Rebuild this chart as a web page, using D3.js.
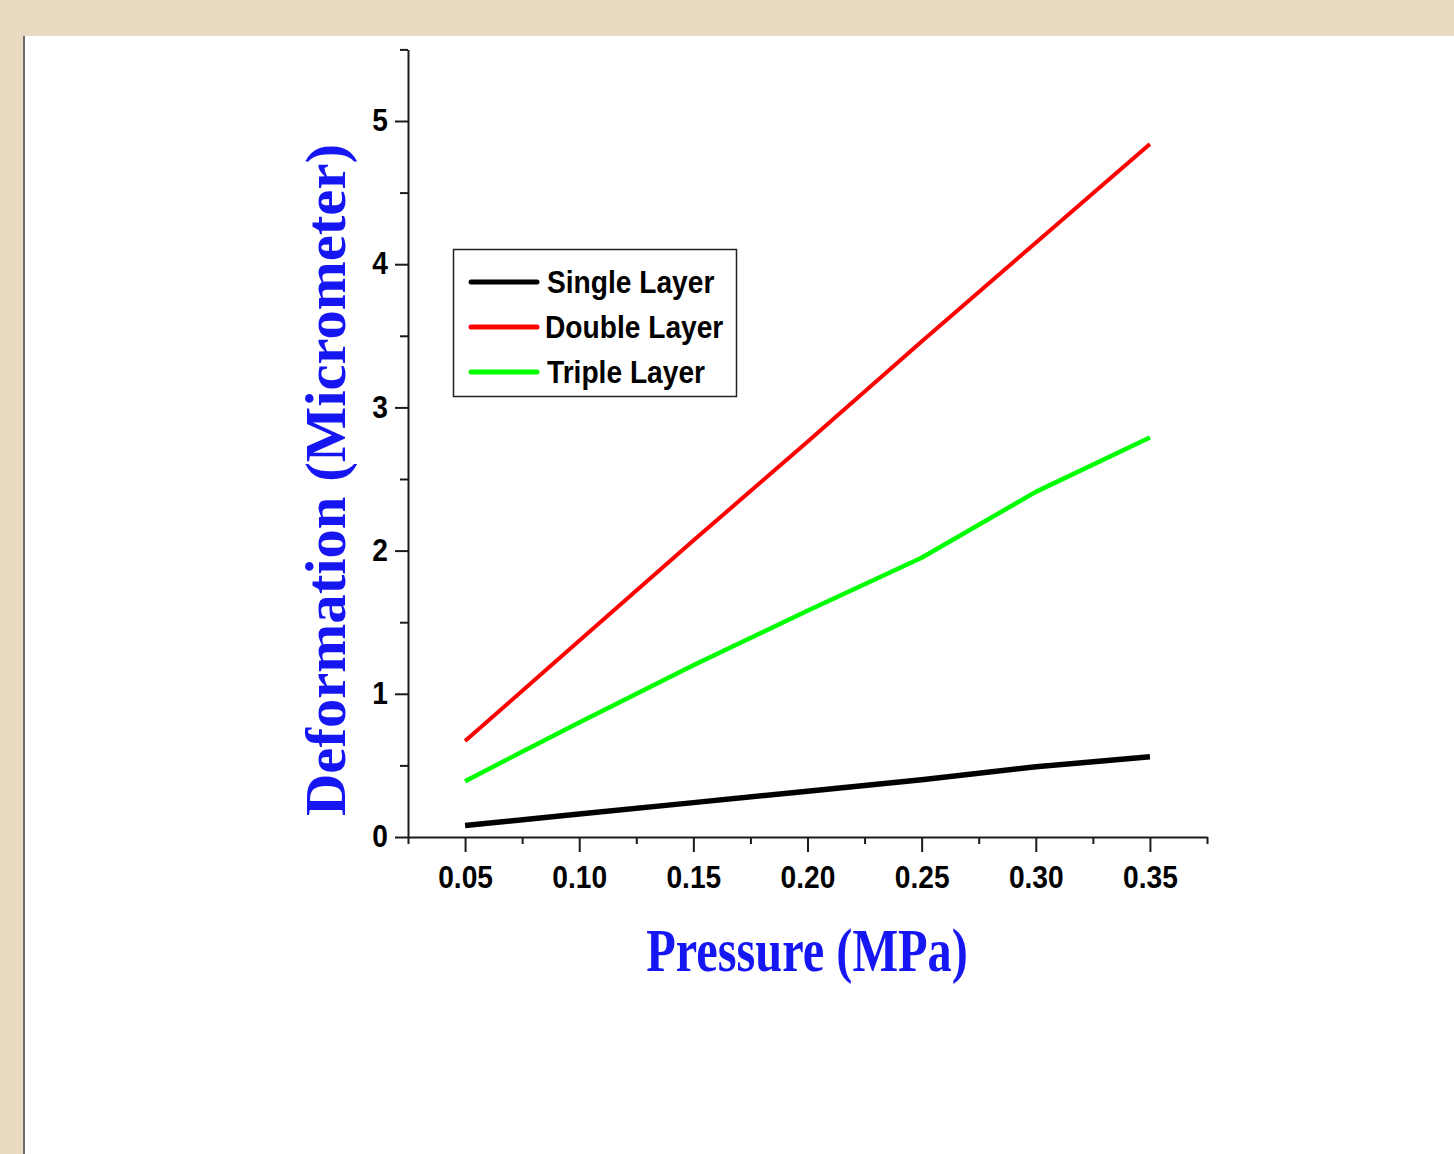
<!DOCTYPE html>
<html>
<head>
<meta charset="utf-8">
<script src="https://cdn.jsdelivr.net/npm/d3@7"></script>
<style>
  body { margin: 0; background: #E9DBC1; }
  svg { display: block; }
</style>
</head>
<body>
<svg id="chart"></svg>
<script>
// data
const pressure = [0.05, 0.10, 0.15, 0.20, 0.25, 0.30, 0.35];
const singleLayer = [0.08, 0.16, 0.24, 0.32, 0.40, 0.49, 0.56];
const doubleLayer = [0.67, 1.37, 2.07, 2.76, 3.46, 4.15, 4.84];
const tripleLayer = [0.39, 0.80, 1.20, 1.58, 1.95, 2.41, 2.79];
const seriesNames = ["Single Layer", "Double Layer", "Triple Layer"];
const xTicks = [0.05, 0.10, 0.15, 0.20, 0.25, 0.30, 0.35];
const yTicks = [0, 1, 2, 3, 4, 5];

const width = 1454, height = 1154;
const colors = ["#000000", "#FF0000", "#00FF00"];
const strokeW = [5.5, 4, 4.5];
const sansFont = "'Liberation Sans', Arial, sans-serif";
const serifFont = "'Liberation Serif', 'Times New Roman', serif";
const titleBlue = "#1616F2";

const svg = d3.select("#chart")
  .attr("width", width)
  .attr("height", height);

// beige page + white panel with a grey left edge
svg.append("rect").attr("width", width).attr("height", height).attr("fill", "#E9DBC1");
svg.append("rect").attr("x", 23).attr("y", 36).attr("width", width - 23).attr("height", height - 36).attr("fill", "#fff");
svg.append("rect").attr("x", 23).attr("y", 36).attr("width", 2).attr("height", height - 36).attr("fill", "#6b6b6b");

// scales
const xScale = d3.scaleLinear().domain([0.025, 0.375]).range([408, 1207]);
const yScale = d3.scaleLinear().domain([0, 5.5]).range([837, 837 - 143.2 * 5.5]);

const xMinor = d3.range(0.025, 0.3751, 0.05);
const yMinor = d3.range(0.5, 5.51, 1);

// x axis
const xAxisG = svg.append("g")
  .attr("transform", `translate(0, ${yScale(0)})`)
  .call(d3.axisBottom(xScale).tickValues(xTicks).tickSize(15).tickSizeOuter(0).tickFormat(d3.format(".2f")));

svg.append("g")
  .attr("class", "minor")
  .attr("transform", `translate(0, ${yScale(0)})`)
  .call(d3.axisBottom(xScale).tickValues(xMinor).tickSize(7).tickFormat(""));

// y axis
const yAxisG = svg.append("g")
  .attr("transform", `translate(${xScale(0.025)}, 0)`)
  .call(d3.axisLeft(yScale).tickValues(yTicks).tickSize(13).tickSizeOuter(0).tickFormat(d3.format("d")));

svg.append("g")
  .attr("class", "minor")
  .attr("transform", `translate(${xScale(0.025)}, 0)`)
  .call(d3.axisLeft(yScale).tickValues(yMinor).tickSize(8).tickFormat(""));

svg.selectAll(".minor path.domain").remove();
svg.selectAll("path.domain").attr("stroke", "#1a1a1a").attr("stroke-width", 2);
svg.selectAll(".tick line").attr("stroke", "#1a1a1a").attr("stroke-width", 2);

xAxisG.selectAll("text")
  .attr("y", 51)
  .attr("dy", 0)
  .attr("transform", "scale(0.88,1)")
  .style("font-family", sansFont)
  .style("font-weight", "bold")
  .style("font-size", "32px")
  .style("fill", "#000");

yAxisG.selectAll("text")
  .attr("x", -20 / 0.88)
  .attr("dy", "0.3em")
  .attr("transform", "scale(0.88,1)")
  .style("font-family", sansFont)
  .style("font-weight", "bold")
  .style("font-size", "32px")
  .style("fill", "#000");

// lines
const lineGen = d3.line()
  .x((d, i) => xScale(pressure[i]))
  .y((d) => yScale(d));

[singleLayer, doubleLayer, tripleLayer].forEach((vals, k) => {
  svg.append("path")
    .datum(vals)
    .attr("d", lineGen)
    .attr("fill", "none")
    .attr("stroke", colors[k])
    .attr("stroke-width", strokeW[k])
    .attr("stroke-linejoin", "round");
});

// legend
const legend = svg.append("g");
legend.append("rect")
  .attr("x", 453.5).attr("y", 249.5)
  .attr("width", 283).attr("height", 147)
  .attr("fill", "#fff")
  .attr("stroke", "#222")
  .attr("stroke-width", 1.5);

seriesNames.forEach((name, k) => {
  const cy = 282 + k * 45;
  legend.append("line")
    .attr("x1", 471).attr("x2", 537)
    .attr("y1", cy).attr("y2", cy)
    .attr("stroke", colors[k])
    .attr("stroke-width", 5)
    .attr("stroke-linecap", "round");
  legend.append("text")
    .attr("transform", `translate(${k === 1 ? 545 : 547}, ${cy + 11}) scale(0.88,1)`)
    .style("font-family", sansFont)
    .style("font-weight", "bold")
    .style("font-size", "32px")
    .style("fill", "#000")
    .text(name);
});

// axis titles
svg.append("text")
  .attr("transform", "translate(807, 971) scale(0.78,1)")
  .attr("text-anchor", "middle")
  .style("font-family", serifFont)
  .style("font-weight", "bold")
  .style("font-size", "62px")
  .style("fill", titleBlue)
  .text("Pressure (MPa)");

svg.append("text")
  .attr("transform", "translate(345, 480) rotate(-90) scale(1.03,1)")
  .attr("text-anchor", "middle")
  .style("font-family", serifFont)
  .style("font-weight", "bold")
  .style("font-size", "57px")
  .style("fill", titleBlue)
  .text("Deformation (Micrometer)");
</script>
</body>
</html>
